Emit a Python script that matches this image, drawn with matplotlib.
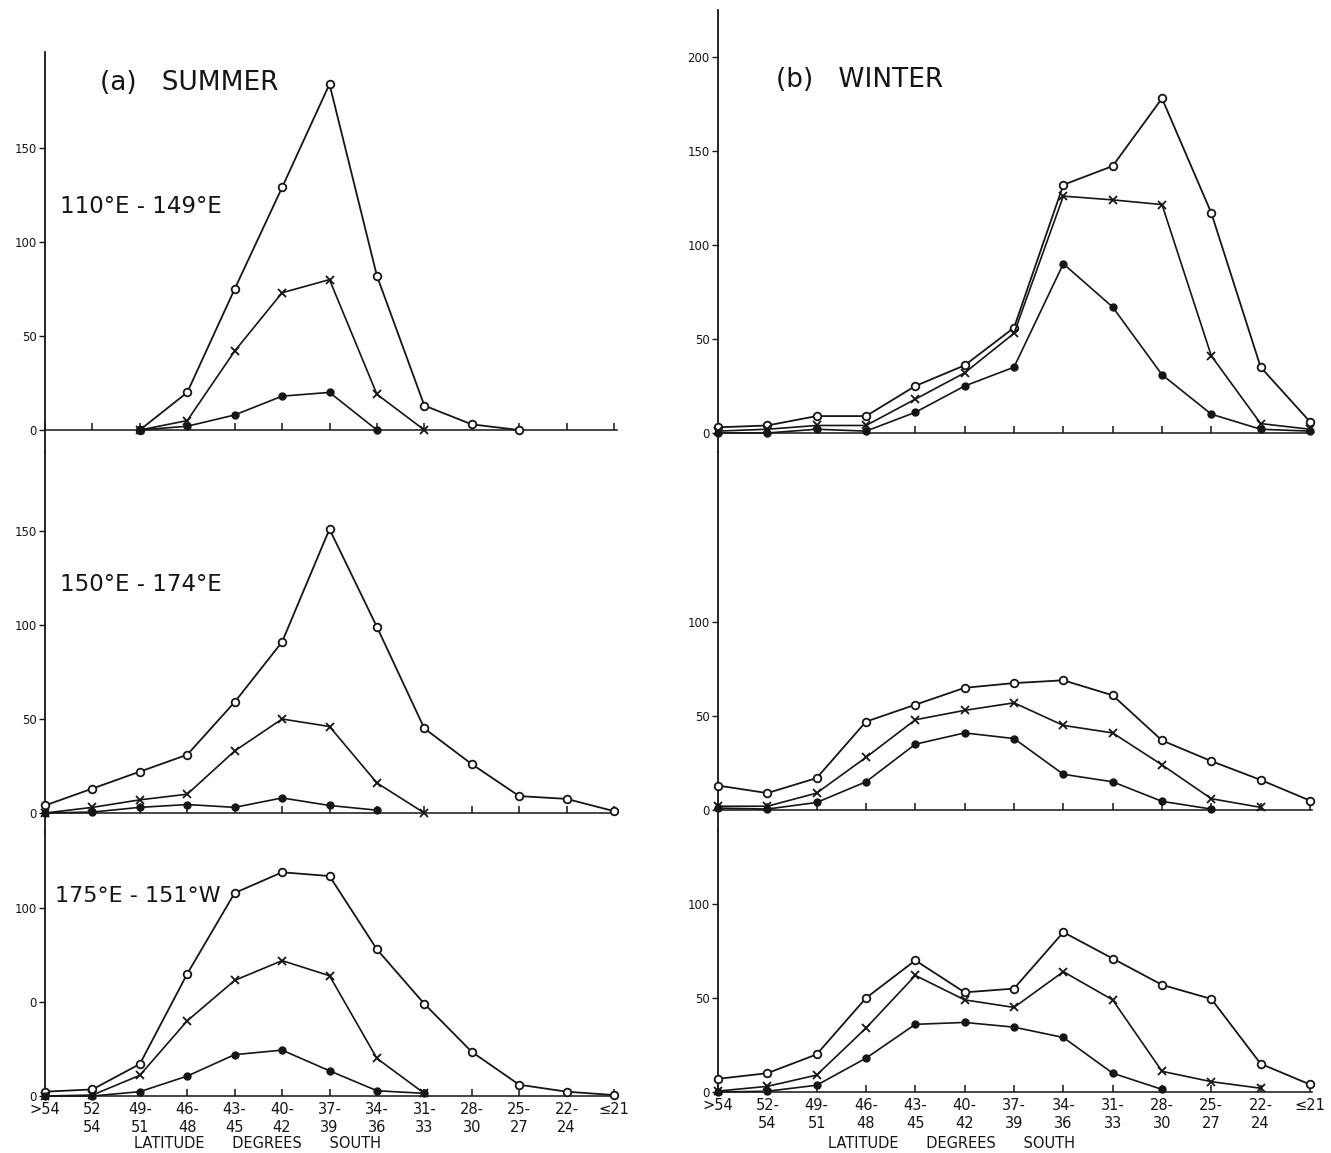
import numpy as np
import matplotlib
matplotlib.use("Agg")
import matplotlib.pyplot as plt

nan = np.nan

# ---- categories / tick labels ----
categories = list(range(13))
xlabels_left = [">54", "52\n54", "49-\n51", "46-\n48", "43-\n45", "40-\n42", "37-\n39",
                "34-\n36", "31-\n33", "28-\n30", "25-\n27", "22-\n24", "≤21"]
xlabels_right = [">54", "52-\n54", "49-\n51", "46-\n48", "43-\n45", "40-\n42", "37-\n39",
                 "34-\n36", "31-\n33", "28-\n30", "25-\n27", "22-\n24", "≤21"]

# ---- (a) SUMMER ----
sum1_o = [nan, nan, 0, 20, 75, 129, 184, 82, 13, 3, 0, nan, nan]
sum1_x = [nan, nan, 0, 5, 42, 73, 80, 19, 0, nan, nan, nan, nan]
sum1_d = [nan, nan, 0, 2, 8, 18, 20, 0, nan, nan, nan, nan, nan]

sum2_o = [4, 13, 22, 31, 59, 91, 151, 99, 45, 26, 9, 7.5, 1]
sum2_x = [0, 3, 7, 10, 33, 50, 46, 16, 0, nan, nan, nan, nan]
sum2_d = [0, 0.5, 3, 4.5, 3, 8, 4, 1.5, nan, nan, nan, nan, nan]

sum3_o = [2.3, 3.5, 17, 65, 108, 119, 117, 78, 49, 23.5, 6, 2.3, 0.5]
sum3_x = [0, 0.5, 11, 40, 61.5, 72, 64, 20, 1.4, nan, nan, nan, nan]
sum3_d = [0, 0, 2.3, 10.6, 22, 24.4, 13.4, 2.8, 1.4, nan, nan, nan, nan]

# ---- (b) WINTER ----
win1_o = [3, 4, 9, 9, 25, 36, 56, 132, 142, 178, 117, 35, 6]
win1_x = [1, 2, 4, 4, 18, 32, 53, 126, 124, 121.5, 41, 5, 2]
win1_d = [0, 0, 2, 1, 11, 25, 35, 90, 67, 31, 10, 2, 1]

win2_o = [13, 9, 17, 47, 56, 65, 67.5, 69, 61, 37, 26, 16, 5]
win2_x = [2, 2, 9, 28, 48, 53, 57, 45, 41, 24, 6, 1.4, nan]
win2_d = [1, 0.5, 4, 15, 35, 41, 38, 19, 15, 4.6, 0.5, nan, nan]

win3_o = [7, 10, 20, 50, 70, 53, 55, 85, 71, 57, 49.5, 15, 4]
win3_x = [0.5, 3, 9, 34, 62, 49, 45, 64, 49, 11, 5.5, 2, nan]
win3_d = [0, 0.4, 3.6, 18, 36, 37, 34.5, 29, 10, 1.4, nan, nan, nan]

region_labels = ["110°E - 149°E", "150°E - 174°E", "175°E - 151°W"]

ytick_sets = {
    "tl": ([0, 50, 100, 150], ["0", "50", "100", "150"]),
    "ml": ([0, 50, 100, 150], ["0", "50", "100", "150"]),
    "bl": ([0, 50, 100], ["0", "0", "100"]),
    "tr": ([0, 50, 100, 150, 200], ["0", "50", "100", "150", "200"]),
    "mr": ([0, 50, 100], ["0", "50", "100"]),
    "br": ([0, 50, 100], ["0", "50", "100"]),
}

plt.rcParams['font.family'] = ['DejaVu Sans']
INK = '#151515'

W, H = 1331, 1153
fig = plt.figure(figsize=(W / 100, H / 100), dpi=100)

S = 1.88  # px per unit

def make_ax(x0, x1, ytop, ybot, yzero, nx_end):
    ax = fig.add_axes([x0 / W, 1 - ybot / H, (x1 - x0) / W, (ybot - ytop) / H])
    ax.set_xlim(0, nx_end)
    ax.set_ylim(-(ybot - yzero) / S, (yzero - ytop) / S)
    for s in ['top', 'right']:
        ax.spines[s].set_visible(False)
    ax.spines['bottom'].set_position(('data', 0))
    ax.spines['left'].set_color(INK)
    ax.spines['bottom'].set_color(INK)
    ax.spines['left'].set_linewidth(1.3)
    ax.spines['bottom'].set_linewidth(1.1)
    ax.patch.set_alpha(0)
    ax.tick_params(axis='x', direction='in', length=5, width=1.1, color=INK,
                   labelsize=10.5, labelcolor=INK, pad=4)
    ax.tick_params(axis='y', direction='out', length=4, width=1.0, color=INK,
                   labelsize=8.5, labelcolor=INK, pad=2)
    ax.set_xticks(categories)
    return ax

def draw(ax, o, x, d):
    ax.plot(categories, o, color=INK, lw=1.3, marker='o', ms=5.5, mfc='white',
            mec=INK, mew=1.3, zorder=3, clip_on=False)
    ax.plot(categories, x, color=INK, lw=1.2, marker='x', ms=5.5, mec=INK,
            mew=1.3, zorder=3, clip_on=False)
    ax.plot(categories, d, color=INK, lw=1.2, marker='o', ms=5, mfc=INK,
            mec=INK, zorder=3, clip_on=False)

# Left column: idx0 at px 45, idx12 at px 614
LX0, LX1 = 45, 617
lend = 12 * (LX1 - LX0) / (614 - 45)
RX0, RX1 = 718, 1312
rend = 12 * (RX1 - RX0) / (1310 - 718)

ax_tl = make_ax(LX0, LX1, 52, 452, 430, lend)
ax_ml = make_ax(LX0, LX1, 452, 832, 813, lend)
ax_bl = make_ax(LX0, LX1, 832, 1098, 1096, lend)
ax_tr = make_ax(RX0, RX1, 10, 452, 433, rend)
ax_mr = make_ax(RX0, RX1, 452, 830, 810, rend)
ax_br = make_ax(RX0, RX1, 830, 1094, 1092, rend)

panels = [(ax_tl, "tl", sum1_o, sum1_x, sum1_d),
          (ax_ml, "ml", sum2_o, sum2_x, sum2_d),
          (ax_bl, "bl", sum3_o, sum3_x, sum3_d),
          (ax_tr, "tr", win1_o, win1_x, win1_d),
          (ax_mr, "mr", win2_o, win2_x, win2_d),
          (ax_br, "br", win3_o, win3_x, win3_d)]

for ax, key, o, x, d in panels:
    draw(ax, o, x, d)
    ticks, labels = ytick_sets[key]
    ax.set_yticks(ticks)
    ax.set_yticklabels(labels)

for ax in (ax_tl, ax_ml, ax_tr, ax_mr):
    ax.tick_params(axis='x', labelbottom=False)

ax_bl.set_xticklabels(xlabels_left, linespacing=1.25)
ax_br.set_xticklabels(xlabels_right, linespacing=1.25)

def ftext(px, py, s, size, **kw):
    fig.text(px / W, 1 - py / H, s, fontsize=size, color=INK, va='baseline', **kw)

ftext(100, 90, "(a)   SUMMER", 19)
ftext(776, 87, "(b)   WINTER", 19)
ftext(60, 213, region_labels[0], 16.5)
ftext(60, 591, region_labels[1], 16.5)
ftext(55, 902, region_labels[2], 16)
ftext(258, 1148, "LATITUDE      DEGREES      SOUTH", 10.5, ha='center')
ftext(951, 1148, "LATITUDE      DEGREES      SOUTH", 10.5, ha='center')

fig.savefig("out.png", dpi=100, facecolor='white')
